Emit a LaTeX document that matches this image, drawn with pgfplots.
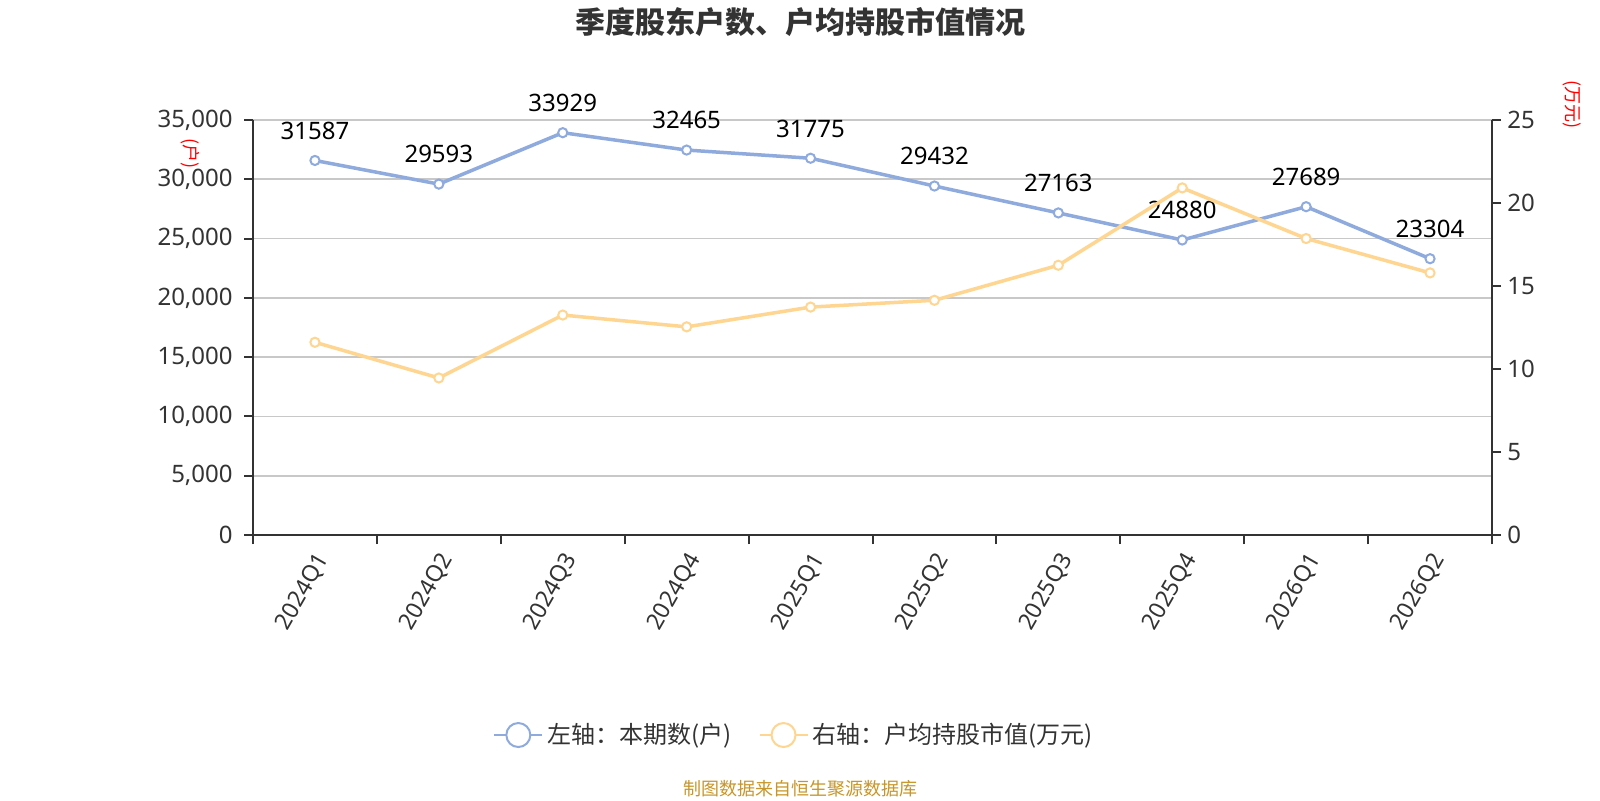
\documentclass[border=0pt]{standalone}
\usepackage{fontspec}
\setmainfont{Noto Sans}
\newfontfamily\cjk{Noto Sans CJK SC}
\usepackage{pgfplots}
\pgfplotsset{compat=1.18}
\definecolor{blueC}{RGB}{143,170,220}
\definecolor{orangeC}{RGB}{255,214,145}
\definecolor{axisC}{RGB}{51,51,51}
\definecolor{gridC}{RGB}{200,200,200}
\definecolor{srcC}{RGB}{200,150,40}
\pgfplotsset{
  /pgf/number format/assume math mode=true,
  base/.style={
    at={(126.5pt,132.5pt)}, anchor=south west,
    scale only axis, width=619.5pt, height=207.5pt,
    xmin=-0.5, xmax=9.5, ymin=0,
    clip=false,
    axis line style={axisC, line width=1pt},
    tick style={axisC, line width=1pt},
    tick align=outside,
    major tick length=4.5pt,
    minor tick length=4.5pt,
    tick label style={font=\fontsize{12}{14}\selectfont, text=axisC},
    scaled y ticks=false,
  },
}
\begin{document}
\begin{tikzpicture}
\useasboundingbox (0,0) rectangle (800pt,400pt);
\fill[white] (0,0) rectangle (800pt,400pt);
\node[font=\cjk\bfseries\fontsize{15}{18}\selectfont, text=axisC] at (400pt,388.75pt) {季度股东户数、户均持股市值情况};
\begin{axis}[
  base,
  ymax=35000,
  axis x line*=bottom, axis y line*=left,
  xtick={0,...,9},
  xticklabels={2024Q1,2024Q2,2024Q3,2024Q4,2025Q1,2025Q2,2025Q3,2025Q4,2026Q1,2026Q2},
  major x tick style={draw=none},
  minor xtick={-0.5,0.5,...,9.5},
  xticklabel style={rotate=60, anchor=north east, inner sep=0pt, font=\fontsize{11.5}{13}\selectfont},
  xticklabel shift=3pt,
  ytick={0,5000,...,35000},
  yticklabel style={inner sep=0pt, /pgf/number format/1000 sep={,}},
  yticklabel shift=5.5pt,
  ymajorgrids,
  grid style={gridC, line width=0.9pt},
  legend style={at={(0.4375,-0.482)}, anchor=center, draw=none, fill=none,
    legend columns=2, font=\cjk\fontsize{12}{14}\selectfont, text=axisC,
    /tikz/every even column/.append style={column sep=11.5pt}},
  legend image code/.code={
    \draw[#1, line width=1pt] (-1pt,0pt) -- (23pt,0pt);
    \draw[#1, line width=1pt, fill=white] (11pt,0pt) circle (6pt);
  },
]
\addplot[blueC, line width=1.75pt, mark=*, mark size=2.3pt,
  mark options={fill=white, line width=1pt},
  nodes near coords={\pgfmathprintnumber[1000 sep={}]{\pgfplotspointmeta}},
  every node near coord/.append style={font=\fontsize{12}{14}\selectfont, text=black,
    anchor=south, inner sep=0pt, yshift=10pt}]
  coordinates {(0,31587) (1,29593) (2,33929) (3,32465) (4,31775) (5,29432) (6,27163) (7,24880) (8,27689) (9,23304)};
\addlegendentry{左轴：本期数(户)}
\addlegendimage{orangeC, line width=1.75pt}
\addlegendentry{右轴：户均持股市值(万元)}
\end{axis}
\begin{axis}[
  base,
  ymax=25,
  axis y line*=right, axis x line=none,
  ytick={0,5,...,25},
  yticklabel style={inner sep=0pt},
  yticklabel shift=3pt,
]
\addplot[orangeC, line width=1.75pt, mark=*, mark size=2.3pt,
  mark options={fill=white, line width=1pt}]
  coordinates {(0,11.61) (1,9.46) (2,13.25) (3,12.54) (4,13.73) (5,14.14) (6,16.25) (7,20.91) (8,17.86) (9,15.79)};
\end{axis}
\node[rotate=-90, text=red, font=\cjk\fontsize{9}{10}\selectfont] at (95pt,323pt) {(户)};
\node[rotate=-90, text=red, font=\cjk\fontsize{9}{10}\selectfont] at (786pt,347.5pt) {(万元)};
\node[font=\cjk\fontsize{9}{10}\selectfont, text=srcC] at (400pt,5.5pt) {制图数据来自恒生聚源数据库};
\end{tikzpicture}
\end{document}
